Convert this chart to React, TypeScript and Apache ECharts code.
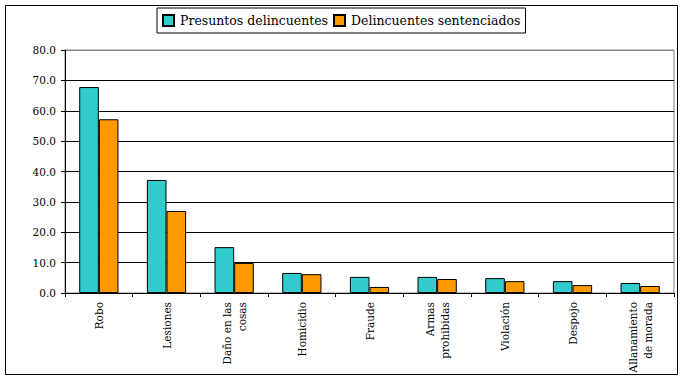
import React, { useEffect, useRef } from "react";
import * as echarts from "echarts";

const categories = [
  "Robo",
  "Lesiones",
  "Daño en las\ncosas",
  "Homicidio",
  "Fraude",
  "Armas\nprohibidas",
  "Violación",
  "Despojo",
  "Allanamiento\nde morada",
];
const presuntos = [67.8, 37.2, 15.1, 6.6, 5.3, 5.3, 4.9, 3.9, 3.3];
const sentenciados = [57.2, 27.0, 9.9, 6.2, 2.0, 4.6, 3.9, 2.6, 2.3];
const seriesNames = ["Presuntos delincuentes", "Delincuentes sentenciados"];
const colors = ["#33CCCC", "#FF9900"];

const FONT = "DejaVu Serif";

export default function App() {
  const ref = useRef<HTMLDivElement>(null);
  useEffect(() => {
    document.body.style.margin = "0";
    const chart = echarts.init(ref.current!, null, { renderer: "svg" });
    chart.setOption({
      animation: false,
      backgroundColor: "#ffffff",
      textStyle: { fontFamily: FONT },
      graphic: [
        {
          type: "rect",
          shape: { x: 5.5, y: 5.5, width: 672, height: 369 },
          style: { fill: "none", stroke: "#000", lineWidth: 1 },
          silent: true,
        },
      ],
      legend: {
        left: 157,
        top: 8,
        padding: [6, 5, 6, 5],
        borderColor: "#000",
        borderWidth: 1,
        itemWidth: 11,
        itemHeight: 11,
        itemGap: 5,
        icon: "rect",
        textStyle: { fontFamily: FONT, fontSize: 12.5, color: "#000", padding: [0, 0, 0, 1] },
        data: seriesNames,
      },
      grid: {
        left: 65,
        right: 10,
        top: 50,
        bottom: 87,
        show: true,
        borderColor: "#808080",
        borderWidth: 1,
      },
      xAxis: {
        type: "category",
        data: categories,
        axisLine: { lineStyle: { color: "#000", width: 1 } },
        axisTick: { show: true, length: 4, lineStyle: { color: "#000" } },
        axisLabel: {
          rotate: 90,
          margin: 9,
          interval: 0,
          fontFamily: FONT,
          fontSize: 10.5,
          color: "#000",
          lineHeight: 15,
        },
      },
      yAxis: {
        type: "value",
        min: 0,
        max: 80,
        interval: 10,
        axisLine: { show: true, lineStyle: { color: "#000", width: 1 } },
        axisTick: { show: true, length: 4, lineStyle: { color: "#000" } },
        axisLabel: {
          margin: 9,
          fontFamily: FONT,
          fontSize: 10.5,
          color: "#000",
          formatter: (v: number) => v.toFixed(1),
        },
        splitLine: {
          show: true,
          lineStyle: {
            color: ["#000", "#000", "#000", "#000", "#000", "#000", "#000", "#000", "#808080"],
            width: 1,
          },
        },
      },
      series: [
        {
          name: seriesNames[0],
          type: "bar",
          data: presuntos,
          barGap: "0%",
          barCategoryGap: "42%",
          itemStyle: { color: colors[0], borderColor: "#000", borderWidth: 1 },
        },
        {
          name: seriesNames[1],
          type: "bar",
          data: sentenciados,
          barGap: "0%",
          barCategoryGap: "42%",
          itemStyle: { color: colors[1], borderColor: "#000", borderWidth: 1 },
        },
      ],
    });
    return () => chart.dispose();
  }, []);
  return <div ref={ref} style={{ width: 684, height: 380 }} />;
}
